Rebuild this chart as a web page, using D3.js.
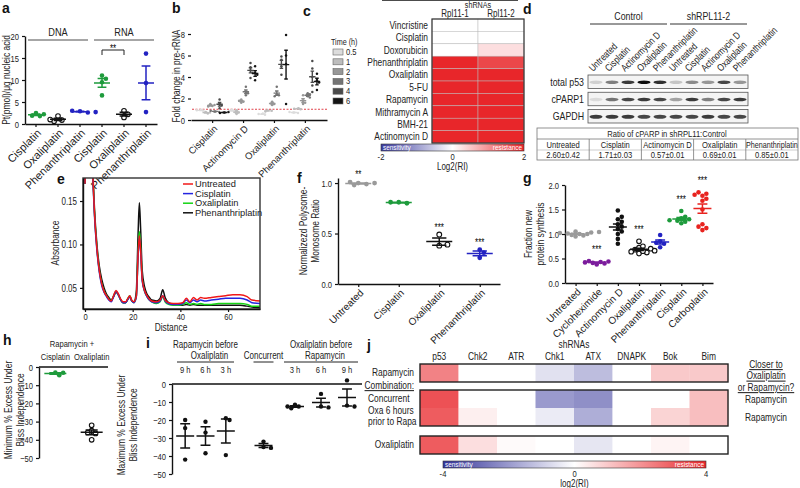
<!DOCTYPE html>
<html><head><meta charset="utf-8">
<script src="https://cdn.jsdelivr.net/npm/d3@7"></script>
<style>
body{margin:0;background:#fff}
svg{font-family:"Liberation Sans",Arial,sans-serif}
</style></head><body>
<svg id="fig" width="800" height="488"></svg>
<script>
// ---- a: Pt per nucleic acid ----
const aCats = ["Cisplatin","Oxaliplatin","Phenanthriplatin","Cisplatin","Oxaliplatin","Phenanthriplatin"];
const aFraction = ["DNA","DNA","DNA","RNA","RNA","RNA"];
const aVals = [[2.5,1.8,2.2,1.9],[1.8,0.9,0.6,1.0],[2.9,2.6,3.0,2.7],[11.0,10.3,9.5,6.5],[3.0,2.2,1.5],[16.0,9.3,2.7]];

// ---- b: fold change in pre-rRNA ----
const bDrugs = ["Cisplatin","Actinomycin D","Oxaliplatin","Phenanthriplatin"];
const bTimes = ["0.5","1","2","3","4","6"];
const bVals = [
  [[0.95,0.85,0.9],[0.75,0.6,0.7],[1.5,1.3,1.25,1.4],[0.8,0.75,0.85],[1.9,1.5,1.35,1.1],[0.7,0.75,0.65]],
  [[0.95,0.8,0.9],[0.9,0.7,0.55],[1.9,1.7,1.6,1.8],[3.1,2.6,2.3,2.5],[5.3,4.9,4.6,4.4,3.9],[5.0,4.4,4.2,3.7]],
  [[0.6,0.5,0.55],[0.9,0.85,0.8],[1.7,1.5,1.4],[3.1,2.4,2.3,2.2],[5.9,5.6,5.0,4.2],[7.9,6.0,5.2,1.5]],
  [[0.7,0.65,0.75],[1.1,1.0,1.05],[2.3,1.8,1.6,1.5],[2.5,2.4,2.2,2.1],[5.5,4.8,4.0,3.2,2.6],[4.3,3.7,3.5,2.8]]
];

// ---- c: RI heatmap ----
const cDrugs = ["Vincristine","Cisplatin","Doxorubicin","Phenanthriplatin","Oxaliplatin","5-FU","Rapamycin","Mithramycin A","BMH-21","Actinomycin D"];
const cShRNA = ["Rpl11-1","Rpl11-2"];
const cRI = [[0,0],[0,0],[0,0.3],[2,1.7],[2,2],[2,2],[2,2],[2,2],[2,2],[2,2]];

// ---- d: western blot ----
const dTreat = ["Untreated","Cisplatin","Actinomycin D","Oxaliplatin","Phenanthriplatin"];
const dLines = ["Control","shRPL11-2"];
const dProteins = ["total p53","cPARP1","GAPDH"];
const dBands = [
  [0.15,0.5,0.8,1.0,0.85, 0.2,0.45,0.4,0.75,0.4],
  [0.1,0.55,0.75,0.8,0.75, 0.35,0.8,0.5,0.75,0.8],
  [0.8,0.8,0.8,0.75,0.75, 0.75,0.75,0.8,0.75,0.75]
];
const dRatio = ["2.60±0.42","1.71±0.03","0.57±0.01","0.69±0.01","0.85±0.01"];

// ---- e: polysome profiles ----
const eDist = [0,1,2,3,3.5,4,5,6,7,8,9,10,11,12,13,14,15,16,17,18,18.8,19.6,20.5,21.5,22.3,22.8,23.3,24,25,26,27,28,30,31.5,32.6,33.6,35,37,39,41,42.5,44,45.5,47,48.5,50,53,56,59,62,65,68,70,73.5];
const eUntreated = [0.17,0.25,0.25,0.2,0.165,0.135,0.095,0.07,0.055,0.046,0.041,0.037,0.035,0.041,0.047,0.043,0.037,0.034,0.034,0.038,0.041,0.036,0.034,0.04,0.09,0.11,0.095,0.06,0.047,0.041,0.037,0.035,0.034,0.036,0.041,0.036,0.033,0.032,0.032,0.033,0.038,0.034,0.039,0.036,0.039,0.038,0.039,0.040,0.041,0.042,0.042,0.040,0.036,0.035];
const eCisplatin = [0.17,0.25,0.25,0.2,0.162,0.132,0.093,0.068,0.053,0.045,0.040,0.036,0.034,0.040,0.046,0.042,0.036,0.033,0.033,0.037,0.040,0.035,0.033,0.039,0.088,0.108,0.093,0.058,0.046,0.040,0.036,0.034,0.033,0.035,0.041,0.035,0.032,0.031,0.031,0.032,0.036,0.033,0.036,0.034,0.036,0.035,0.036,0.037,0.038,0.038,0.038,0.036,0.033,0.032];
const eOxaliplatin = [0.17,0.25,0.25,0.2,0.165,0.135,0.096,0.07,0.055,0.046,0.041,0.037,0.035,0.041,0.046,0.042,0.036,0.033,0.033,0.038,0.041,0.035,0.033,0.040,0.092,0.115,0.098,0.060,0.046,0.040,0.036,0.034,0.032,0.034,0.040,0.034,0.031,0.030,0.030,0.031,0.033,0.031,0.032,0.031,0.032,0.031,0.031,0.032,0.032,0.032,0.032,0.031,0.029,0.029];
const ePhenanthriplatin = [0.17,0.25,0.25,0.21,0.17,0.14,0.1,0.075,0.06,0.05,0.043,0.039,0.036,0.040,0.045,0.042,0.036,0.033,0.033,0.037,0.040,0.035,0.034,0.045,0.115,0.148,0.12,0.07,0.051,0.043,0.039,0.036,0.035,0.038,0.048,0.039,0.033,0.031,0.030,0.030,0.031,0.030,0.031,0.030,0.030,0.030,0.030,0.030,0.030,0.030,0.030,0.029,0.028,0.027];

// ---- f: polysome/monosome ratio ----
const fCats = ["Untreated","Cisplatin","Oxaliplatin","Phenanthriplatin"];
const fVals = [[1.0,0.99,1.01,0.98,1.0],[0.81,0.80,0.81],[0.49,0.38,0.39],[0.34,0.26,0.31]];
const fStars = ["**","","***","***"];

// ---- g: new protein synthesis ----
const gCats = ["Untreated","Cycloheximide","Actinomycin D","Oxaliplatin","Phenanthriplatin","Cisplatin","Carboplatin"];
const gVals = [
  [0.95,0.97,0.98,1.0,1.0,1.01,1.02,1.03,1.05,1.04],
  [0.38,0.40,0.41,0.42,0.43,0.45,0.44],
  [0.80,0.90,1.0,1.05,1.1,1.15,1.2,1.25,1.3,1.35,1.48],
  [0.6,0.62,0.65,0.68,0.7,0.72,0.75,0.85,0.64,0.66],
  [0.73,0.8,0.85,0.98,0.82],
  [1.22,1.25,1.27,1.3,1.32,1.35,1.47,1.28],
  [1.08,1.12,1.15,1.2,1.5,1.68,1.72,1.78,1.82,1.85,1.8]
];
const gStars = ["","***","","***","","***","***"];

// ---- h: minimum excess under Bliss ----
const hCats = ["Cisplatin","Oxaliplatin"];
const hVals = [[-3,-4.5,-3.2],[-32,-35,-36.5,-40,-36]];

// ---- i: maximum excess under Bliss, by schedule ----
const iGroups = [["Rapamycin before","Oxaliplatin"],["","Concurrent"],["Oxaliplatin before","Rapamycin"]];
const iTimes = [["9 h","6 h","3 h"],[""],["3 h","6 h","9 h"]];
const iVals = [
  [[-20,-24.5,-42],[-21,-27,-38.5],[-19,-20,-39.5]],
  [[-32,-35,-35.5]],
  [[-11.5,-12.5,-13.5,-12.5],[-5.5,-12.5,-13],[2,-12,-12.5]]
];

// ---- j: RI heatmap for combinations ----
const jShRNA = ["p53","Chk2","ATR","Chk1","ATX","DNAPK","Bok","Bim"];
const jBlocks = [["Rapamycin"],["Concurrent","Oxa 6 hours prior to Rapa"],["Oxaliplatin"]];
const jRI = [
  [[2.3,0,0,-0.6,-1.3,0,1.0,1.0]],
  [[3.2,0,0,-2.0,-2.2,0,0,1.2],[3.0,0.3,0,-0.4,-1.6,0,0.8,1.2]],
  [[3.0,0.6,0.1,0,-0.5,0,0.2,0]]
];
const jCloser = [[""],["Rapamycin","Rapamycin"],[""]];

// ================= drawing =================
const svg = d3.select("#fig");
const drugColor = {Untreated:"#9a9a9a", Cisplatin:"#1e9b3c", Oxaliplatin:"#111", Phenanthriplatin:"#2323c2",
  Cycloheximide:"#7b1c9c", "Actinomycin D":"#111", Carboplatin:"#e8231f"};
const openDrug = {Oxaliplatin:true};

function styleAxis(s, fs) {
  s.select(".domain").attr("stroke","#111").attr("stroke-width",1.4);
  s.selectAll(".tick line").attr("stroke","#111").attr("stroke-width",1.2);
  s.selectAll(".tick text").attr("font-size",fs||9.5).attr("fill","#222");
}
// rotated category labels (these are not condensed in the source)
function rot(s, fs) {
  s.selectAll(".tick text").classed("nosq", true).attr("font-size",fs||10).attr("text-anchor","end")
    .attr("x",0).attr("y",0).attr("dy","0.35em").attr("transform","translate(3,7) rotate(-45)");
}
function letter(t, x, y) {
  svg.append("text").attr("class","letter").attr("x",x).attr("y",y).attr("font-size",14).attr("font-weight","bold")
    .attr("fill","#111").text(t);
}
function yTitle(lines, x, y, fs) {
  lines.forEach((l,i) => svg.append("text").attr("transform",`translate(${x + i*11.5},${y}) rotate(-90)`)
    .attr("text-anchor","middle").attr("font-size",fs||10.5).attr("fill","#222").text(l));
}
// simple beeswarm around the group centre
function swarm(vals, y, r) {
  const placed = [];
  return vals.map(v => {
    const py = y(v);
    let off = 0, k = 0;
    while (placed.some(p => Math.hypot(p.x - off, p.y - py) < 1.8 * r)) {
      k++; off = (k % 2 ? 1 : -1) * Math.ceil(k / 2) * r * 1.7;
    }
    placed.push({x: off, y: py});
    return {x: off, y: py};
  });
}
function dotGroup(g, cx, y, vals, color, o) {
  const r = o.r || 2.3, w = o.w || 9;
  swarm(vals, y, r).forEach(p => g.append("circle").attr("cx",cx + p.x).attr("cy",p.y).attr("r",r)
    .attr("fill", o.open ? "#fff" : color).attr("stroke", color).attr("stroke-width", o.open ? 1.1 : 0));
  const m = d3.mean(vals), se = d3.deviation(vals) / Math.sqrt(vals.length);
  const cw = w * 0.55;
  g.append("path").attr("fill","none").attr("stroke",color).attr("stroke-width",o.sw || 1.5)
    .attr("d",`M${cx-w},${y(m)}H${cx+w}M${cx-cw},${y(m+se)}H${cx+cw}M${cx},${y(m+se)}V${y(m-se)}M${cx-cw},${y(m-se)}H${cx+cw}`);
}

// ---------- a ----------
letter("a", 2, 13);
{
  const g = svg.append("g");
  const x = d3.scaleBand().domain(d3.range(aCats.length)).range([25,157]);
  const y = d3.scaleLinear().domain([0,20]).range([124,36]);
  g.append("g").attr("transform","translate(25,0)").call(d3.axisLeft(y).ticks(4).tickSize(3).tickSizeOuter(0)).call(styleAxis);
  g.append("g").attr("transform","translate(0,124)")
    .call(d3.axisBottom(x).tickSize(3).tickSizeOuter(0).tickFormat(i => aCats[i])).call(styleAxis).call(s => rot(s, 11));
  aVals.forEach((v,i) => dotGroup(g, x(i) + x.bandwidth()/2, y, v, drugColor[aCats[i]], {r:2.3, w:8, open:openDrug[aCats[i]]}));
  ["DNA","RNA"].forEach(f => {
    const idx = aFraction.map((d,i) => d === f ? i : -1).filter(i => i >= 0);
    const x0 = x(idx[0]) + 3, x1 = x(idx[idx.length-1]) + x.bandwidth() - 3;
    g.append("line").attr("x1",x0).attr("x2",x1).attr("y1",40).attr("y2",40).attr("stroke","#888").attr("stroke-width",1.3);
    g.append("text").attr("x",(x0+x1)/2).attr("y",36).attr("text-anchor","middle").attr("font-size",11.5).attr("fill","#222").text(f);
  });
  const s0 = x(3) + x.bandwidth()/2, s1 = x(4) + x.bandwidth()/2;
  g.append("path").attr("fill","none").attr("stroke","#222").attr("stroke-width",1)
    .attr("d",`M${s0},55V50H${s1}V55`);
  g.append("text").attr("x",(s0+s1)/2).attr("y",52).attr("text-anchor","middle").attr("font-size",10).text("**");
  yTitle(["Pt(pmol)/μg nucleic acid"], 10, 80);
}

// ---------- b ----------
letter("b", 172, 13);
{
  const g = svg.append("g");
  const shades = ["#dcdcdc","#bdbdbd","#979797","#747474","#4a4a4a","#141414"];
  const x = d3.scaleBand().domain(bDrugs).range([191,327]).paddingInner(0.1).paddingOuter(0.25);
  const xi = d3.scaleBand().domain(bTimes).range([0, x.bandwidth()]);
  const y = d3.scaleLinear().domain([0,8]).range([120,34]);
  g.append("g").attr("transform","translate(191,0)").call(d3.axisLeft(y).ticks(4).tickSize(3).tickSizeOuter(0)).call(styleAxis);
  const xa = d3.axisBottom(x).tickSize(3).tickSizeOuter(0);
  g.append("g").attr("transform","translate(0,120)").call(xa).call(styleAxis).call(s => rot(s, 9.5));
  g.select("g:last-child .domain").attr("d","M191,0H327");
  g.append("line").attr("x1",192).attr("x2",327).attr("y1",y(1)).attr("y2",y(1))
    .attr("stroke","#e0404a").attr("stroke-width",1).attr("stroke-dasharray","2,1.5");
  bVals.forEach((grp,gi) => grp.forEach((v,ti) => {
    const cx = x(bDrugs[gi]) + xi(bTimes[ti]) + xi.bandwidth()/2;
    dotGroup(g, cx, y, v, shades[ti], {r:1.25, w:3.2, sw:1.4});
  }));
  const lg = svg.append("g").attr("transform","translate(331,0)");
  lg.append("text").attr("x",0).attr("y",45).attr("font-size",9).attr("fill","#222").text("Time (h)");
  bTimes.forEach((t,i) => {
    lg.append("rect").attr("x",2).attr("y",49 + i*9.8).attr("width",10).attr("height",6)
      .attr("fill",shades[i]).attr("stroke","#666").attr("stroke-width",0.6);
    lg.append("text").attr("x",15).attr("y",55 + i*9.8).attr("font-size",9.5).attr("fill","#222").text(t);
  });
  yTitle(["Fold change in pre-rRNA"], 180, 76);
}

// ---------- c ----------
letter("c", 303, 16);
{
  const g = svg.append("g");
  const col = d3.scaleLinear().domain([-2,0,2]).range(["#3b3b9e","#ffffff","#e8262a"]).clamp(true);
  const x = d3.scaleBand().domain(cShRNA).range([432,524]);
  const y = d3.scaleBand().domain(cDrugs).range([19,143]);
  cRI.forEach((row,ri) => row.forEach((v,ci) => g.append("rect")
    .attr("x",x(cShRNA[ci])).attr("y",y(cDrugs[ri])).attr("width",x.bandwidth()).attr("height",y.bandwidth())
    .attr("fill",col(v)).attr("stroke","#bbb").attr("stroke-width",0.5)));
  g.append("rect").attr("x",432).attr("y",19).attr("width",92).attr("height",124).attr("fill","none").attr("stroke","#333").attr("stroke-width",1.2);
  cDrugs.forEach(d => g.append("text").attr("x",428).attr("y",y(d) + y.bandwidth()/2).attr("dy","0.35em")
    .attr("text-anchor","end").attr("font-size",10.5).attr("fill","#222").text(d));
  cShRNA.forEach(s => g.append("text").attr("x",x(s) + x.bandwidth()/2).attr("y",17).attr("text-anchor","middle")
    .attr("font-size",10).attr("fill","#222").text(s));
  g.append("text").attr("x",478).attr("y",8).attr("text-anchor","middle").attr("font-size",9).attr("fill","#222").text("shRNAs");
  // colour bar
  const cb = d3.scaleLinear().domain([-2,2]).range([381,524]);
  const grad = svg.append("defs").append("linearGradient").attr("id","gc");
  [-2,-1,0,1,2].forEach(v => grad.append("stop").attr("offset",(v+2)/4).attr("stop-color",col(v)));
  g.append("rect").attr("x",cb(-2)).attr("y",144).attr("width",cb(2)-cb(-2)).attr("height",7).attr("fill","url(#gc)").attr("stroke","#333").attr("stroke-width",0.6);
  g.append("text").attr("x",cb(-2)+2).attr("y",150).attr("font-size",8).attr("fill","#fff").text("sensitivity");
  g.append("text").attr("x",cb(2)-2).attr("y",150).attr("text-anchor","end").attr("font-size",8).attr("fill","#fff").text("resistance");
  [-2,0,2].forEach(v => g.append("text").attr("x",cb(v)).attr("y",160).attr("text-anchor","middle").attr("font-size",9.5).attr("fill","#222").text(v === -2 ? "-2" : v));
  g.append("text").attr("x",cb(0)).attr("y",170).attr("text-anchor","middle").attr("font-size",10).attr("fill","#222").text("Log2(RI)");
}

// ---------- d ----------
letter("d", 523, 14);
{
  const g = svg.append("g");
  const defs = svg.append("defs");
  defs.append("filter").attr("id","blur").append("feGaussianBlur").attr("stdDeviation",0.7);
  const lanes = d3.range(dLines.length * dTreat.length);
  const x = d3.scaleBand().domain(lanes).range([588,748]);
  const y = d3.scaleBand().domain(dProteins).range([75,123]).paddingInner(0.22);
  dLines.forEach((l,li) => {
    const x0 = x(li*dTreat.length) + 2, x1 = x((li+1)*dTreat.length - 1) + x.bandwidth() - 1;
    g.append("line").attr("x1",x0).attr("x2",x1).attr("y1",24).attr("y2",24).attr("stroke","#333").attr("stroke-width",1);
    g.append("text").attr("x",(x0+x1)/2).attr("y",20).attr("text-anchor","middle").attr("font-size",11).attr("fill","#222").text(l);
  });
  lanes.forEach(i => g.append("text").attr("transform",`translate(${x(i) + x.bandwidth()/2 - 3},72) rotate(-45)`)
    .attr("font-size",10).attr("fill","#222").text(dTreat[i % dTreat.length]));
  dProteins.forEach((p,pi) => {
    g.append("rect").attr("x",588).attr("y",y(p)).attr("width",160).attr("height",y.bandwidth())
      .attr("fill","#f4f4f4").attr("stroke","#555").attr("stroke-width",0.8);
    g.append("text").attr("x",584).attr("y",y(p) + y.bandwidth()/2).attr("dy","0.35em").attr("text-anchor","end")
      .attr("font-size",11).attr("fill","#222").text(p);
    dBands[pi].forEach((v,i) => g.append("ellipse").attr("cx",x(i) + x.bandwidth()/2).attr("cy",y(p) + y.bandwidth()/2 + 0.5)
      .attr("rx",6.5).attr("ry",pi === 2 ? 2 : 1.7).attr("fill","#111").attr("opacity",v).attr("filter","url(#blur)"));
  });
  // ratio table
  const tx = d3.scaleBand().domain(dTreat).range([537,798]);
  const t = g.append("g").attr("font-size",9.5).attr("fill","#222").attr("text-anchor","middle");
  t.append("rect").attr("x",537).attr("y",128).attr("width",261).attr("height",32).attr("fill","none").attr("stroke","#777").attr("stroke-width",0.8);
  t.append("line").attr("x1",537).attr("x2",798).attr("y1",139).attr("y2",139).attr("stroke","#777").attr("stroke-width",0.8);
  t.append("line").attr("x1",537).attr("x2",798).attr("y1",150).attr("y2",150).attr("stroke","#999").attr("stroke-width",0.5);
  t.append("text").attr("x",667).attr("y",137).text("Ratio of cPARP in shRPL11:Control");
  dTreat.forEach((d,i) => {
    if (i) t.append("line").attr("x1",tx(d)).attr("x2",tx(d)).attr("y1",139).attr("y2",160).attr("stroke","#777").attr("stroke-width",0.8);
    t.append("text").attr("x",tx(d) + tx.bandwidth()/2).attr("y",148).attr("font-size",i === 4 ? 9 : null).text(d);
    t.append("text").attr("x",tx(d) + tx.bandwidth()/2).attr("y",158.5).text(dRatio[i]);
  });
}

// ---------- e ----------
letter("e", 57, 184);
{
  const g = svg.append("g");
  const x = d3.scaleLinear().domain([-0.84,73.4]).range([83,260]);
  const y = d3.scaleLinear().domain([0.0257,0.1765]).range([309,178]);
  svg.append("defs").append("clipPath").attr("id","ce").append("rect").attr("x",83).attr("y",178).attr("width",177).attr("height",131);
  const series = [["Phenanthriplatin",ePhenanthriplatin,"#111"],["Oxaliplatin",eOxaliplatin,"#14d414"],
                  ["Cisplatin",eCisplatin,"#2424e0"],["Untreated",eUntreated,"#f01818"]];
  const line = d3.line().x((d,i) => x(eDist[i])).y(d => y(d)).curve(d3.curveMonotoneX);
  series.forEach(s => g.append("path").attr("clip-path","url(#ce)").attr("d",line(s[1]))
    .attr("fill","none").attr("stroke",s[2]).attr("stroke-width",1.5));
  g.append("rect").attr("x",83).attr("y",178).attr("width",177).attr("height",131).attr("fill","none").attr("stroke","#333").attr("stroke-width",1.4);
  g.append("g").attr("transform","translate(83,0)").call(d3.axisLeft(y).tickValues([0.05,0.10,0.15]).tickFormat(d3.format(".2f")).tickSize(3).tickSizeOuter(0)).call(s => styleAxis(s,10));
  g.append("g").attr("transform","translate(0,309)").call(d3.axisBottom(x).tickValues([0,20,40,60]).tickSize(3).tickPadding(1).tickSizeOuter(0)).call(s => styleAxis(s,9.5));
  g.append("text").attr("x",171).attr("y",331).attr("text-anchor","middle").attr("font-size",10.5).attr("fill","#222").text("Distance");
  yTitle(["Absorbance"], 59, 243);
  series.slice().reverse().forEach((s,i) => {
    g.append("line").attr("x1",183).attr("x2",193).attr("y1",184 + i*9.6).attr("y2",184 + i*9.6).attr("stroke",s[2]).attr("stroke-width",1.5);
    g.append("text").attr("class","nosq").attr("x",195).attr("y",184 + i*9.6).attr("dy","0.35em").attr("font-size",9.3).attr("fill","#222").text(s[0]);
  });
}

// ---------- f ----------
letter("f", 297, 183);
{
  const g = svg.append("g");
  const x = d3.scalePoint().domain(fCats).range([338,500]).padding(0.5);
  const y = d3.scaleLinear().domain([0,1.05]).range([284,178]);
  g.append("g").attr("transform","translate(338,0)").call(d3.axisLeft(y).tickValues([0,0.5,1]).tickFormat(d3.format(".1f")).tickSize(3).tickSizeOuter(0)).call(styleAxis);
  g.append("g").attr("transform","translate(0,284)").call(d3.axisBottom(x).tickSize(3).tickSizeOuter(0)).call(styleAxis).call(s => rot(s, 10));
  fVals.forEach((v,i) => {
    dotGroup(g, x(fCats[i]), y, v, drugColor[fCats[i]], {r:2.4, w:13, open:openDrug[fCats[i]]});
    if (fStars[i]) g.append("text").attr("x",x(fCats[i])).attr("y",y(d3.max(v)) - 4).attr("text-anchor","middle").attr("font-size",10).text(fStars[i]);
  });
  yTitle(["Normalizezd Polysome-","Monosome Ratio"], 307, 231);
}

// ---------- g ----------
letter("g", 523, 183);
{
  const g = svg.append("g");
  const x = d3.scalePoint().domain(gCats).range([565,713]).padding(0.5);
  const y = d3.scaleLinear().domain([0,2]).range([283,185]);
  g.append("g").attr("transform","translate(565,0)").call(d3.axisLeft(y).tickValues([0,0.5,1,1.5,2]).tickFormat(d3.format(".1f")).tickSize(3).tickSizeOuter(0)).call(styleAxis);
  g.append("g").attr("transform","translate(0,283)").call(d3.axisBottom(x).tickSize(3).tickSizeOuter(0)).call(styleAxis).call(s => rot(s, 10));
  gVals.forEach((v,i) => {
    dotGroup(g, x(gCats[i]), y, v, drugColor[gCats[i]], {r:2.3, w:9, open:openDrug[gCats[i]]});
    if (gStars[i]) g.append("text").attr("x",x(gCats[i])).attr("y",y(d3.max(v)) - 8).attr("text-anchor","middle").attr("font-size",10).text(gStars[i]);
  });
  yTitle(["Fraction new","protein synthesis"], 532, 234);
}

// ---------- h ----------
letter("h", 3, 345);
{
  const g = svg.append("g");
  const x = d3.scalePoint().domain(hCats).range([39,108]).padding(0.45);
  const y = d3.scaleLinear().domain([-50,0]).range([458,367]);
  g.append("g").attr("transform","translate(39,0)").call(d3.axisLeft(y).ticks(5).tickSize(3).tickSizeOuter(0)).call(styleAxis);
  g.append("g").attr("transform",`translate(0,${y(0)})`).call(d3.axisTop(x).tickSize(0).tickFormat("")).call(styleAxis).select(".domain").attr("d","M39,0H108");
  hVals.forEach((v,i) => dotGroup(g, x(hCats[i]), y, v, drugColor[hCats[i]], {r:2.3, w:11, open:openDrug[hCats[i]]}));
  g.append("text").attr("x",72).attr("y",347).attr("text-anchor","middle").attr("font-size",9.5).attr("fill","#222").text("Rapamycin +");
  hCats.forEach(c => g.append("text").attr("x",x(c)).attr("y",360).attr("text-anchor","middle").attr("font-size",9.5).attr("fill","#222").text(c));
  yTitle(["Minimum % Excess Under","Bliss Independence"], 12, 410);
}

// ---------- i ----------
letter("i", 146, 348);
{
  const g = svg.append("g");
  const y = d3.scaleLinear().domain([-50,0]).range([474,384]);
  const spans = [[175,236],[247,280],[282,360]];
  g.append("g").attr("transform","translate(172,0)").call(d3.axisLeft(y).ticks(5).tickSize(3).tickSizeOuter(0)).call(styleAxis);
  g.append("line").attr("x1",172).attr("x2",362).attr("y1",y(0)).attr("y2",y(0)).attr("stroke","#111").attr("stroke-width",1.4);
  iGroups.forEach((lbl,gi) => {
    const x = d3.scalePoint().domain(iTimes[gi]).range(spans[gi]).padding(0.5);
    const cx = (spans[gi][0] + spans[gi][1]) / 2;
    if (lbl[0]) g.append("text").attr("x",cx).attr("y",348).attr("text-anchor","middle").attr("font-size",10).attr("fill","#222").text(lbl[0]);
    g.append("text").attr("x",cx + (gi === 1 ? 0 : 4)).attr("y",359).attr("text-anchor","middle").attr("font-size",10).attr("fill","#222").text(lbl[1]);
    const lw = gi === 1 ? 10 : (spans[gi][1] - spans[gi][0]) / 2 - 2;
    g.append("line").attr("x1",cx - lw).attr("x2",cx + lw).attr("y1",362).attr("y2",362).attr("stroke","#222").attr("stroke-width",1);
    iTimes[gi].forEach((t,ti) => {
      g.append("text").attr("x",x(t)).attr("y",373).attr("text-anchor","middle").attr("font-size",9.5).attr("fill","#222").text(t);
      dotGroup(g, x(t), y, iVals[gi][ti], "#111", {r:2.2, w:9});
    });
  });
  yTitle(["Maximum % Excess Under","Bliss Independence"], 125, 425);
}

// ---------- j ----------
letter("j", 367, 350);
{
  const g = svg.append("g");
  const col = d3.scaleLinear().domain([-4,0,4]).range(["#34349a","#ffffff","#e8262a"]).clamp(true);
  const x = d3.scaleBand().domain(jShRNA).range([420,728]);
  const blockTop = [364, 390, 436], rowH = 18;
  jShRNA.forEach(s => g.append("text").attr("x",x(s) + x.bandwidth()/2).attr("y",360).attr("text-anchor","middle").attr("font-size",10.5).attr("fill","#222").text(s));
  g.append("text").attr("x",(x("Chk1") + x("ATX") + x.bandwidth())/2).attr("y",348).attr("text-anchor","middle").attr("font-size",10.5).attr("fill","#222").text("shRNAs");
  jBlocks.forEach((rows,bi) => {
    rows.forEach((r,ri) => {
      const y0 = blockTop[bi] + ri*rowH;
      jRI[bi][ri].forEach((v,ci) => g.append("rect").attr("x",x(jShRNA[ci])).attr("y",y0).attr("width",x.bandwidth()+0.3).attr("height",rowH)
        .attr("fill",col(v)));
      if (jCloser[bi][ri]) g.append("text").attr("x",766).attr("y",y0 + rowH/2).attr("dy","0.35em").attr("text-anchor","middle")
        .attr("font-size",10.5).attr("fill","#222").text(jCloser[bi][ri]);
    });
    g.append("rect").attr("x",420).attr("y",blockTop[bi]).attr("width",308).attr("height",rows.length*rowH)
      .attr("fill","none").attr("stroke","#222").attr("stroke-width",1.4);
  });
  const lab = (t,x0,y0,anchor,extra) => g.append("text").attr("x",x0).attr("y",y0).attr("text-anchor",anchor)
    .attr("font-size",10.5).attr("fill","#222").attr("text-decoration",extra || null).text(t);
  lab("Rapamycin",414,376,"end");
  lab("Combination:",414,389,"end","underline");
  lab("Concurrent",368,402,"start");
  lab("Oxa 6 hours",368,414,"start");
  lab("prior to Rapa",368,425,"start");
  lab("Oxaliplatin",414,448,"end");
  ["Closer to","Oxaliplatin","or Rapamycin?"].forEach((t,i) => lab(t,766,368 + i*11.5,"middle","underline"));
  // colour bar
  const cb = d3.scaleLinear().domain([-4,4]).range([443,706]);
  const grad = svg.append("defs").append("linearGradient").attr("id","gj");
  [-4,-2,0,2,4].forEach(v => grad.append("stop").attr("offset",(v+4)/8).attr("stop-color",col(v)));
  g.append("rect").attr("x",cb(-4)).attr("y",461).attr("width",cb(4)-cb(-4)).attr("height",7).attr("fill","url(#gj)").attr("stroke","#333").attr("stroke-width",0.6);
  g.append("text").attr("x",cb(-4)+2).attr("y",467).attr("font-size",8).attr("fill","#fff").text("sensitivity");
  g.append("text").attr("x",cb(4)-2).attr("y",467).attr("text-anchor","end").attr("font-size",8).attr("fill","#fff").text("resistance");
  [-4,0,4].forEach(v => g.append("text").attr("x",cb(v)).attr("y",477).attr("text-anchor","middle").attr("font-size",9.5).attr("fill","#222").text(v === -4 ? "-4" : v));
  g.append("text").attr("x",cb(0)).attr("y",487).attr("text-anchor","middle").attr("font-size",10).attr("fill","#222").text("log2(RI)");
}

// the source figure uses a condensed sans; squeeze each text horizontally about its anchor
svg.selectAll("text:not(.letter):not(.nosq)").each(function() {
  const s = d3.select(this);
  const tr = s.attr("transform");
  if (tr) s.attr("transform", `${tr} scale(0.8,1)`);
  else {
    const ax = +s.attr("x") || 0;
    s.attr("transform", `translate(${ax},0) scale(0.8,1) translate(${-ax},0)`);
  }
});
</script>
</body></html>
